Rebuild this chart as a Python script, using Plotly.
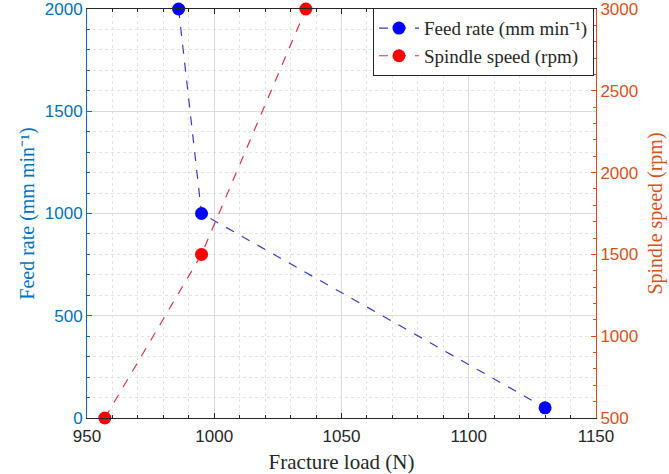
import plotly.graph_objects as go

load_feed = [986, 995, 1130]
feed_rate = [2000, 1000, 50]
load_spindle = [957, 995, 1036]
spindle_speed = [500, 1500, 3000]

x_ticks = [950, 1000, 1050, 1100, 1150]
y1_ticks = [0, 500, 1000, 1500, 2000]
y2_ticks = [500, 1000, 1500, 2000, 2500, 3000]

BLUE_AX = "#0072BD"
ORANGE_AX = "#D95319"
DARK = "#262626"
serif = "Liberation Serif"
sans = "Liberation Sans"

fig = go.Figure()
fig.add_trace(go.Scatter(
    x=load_feed, y=feed_rate, mode="lines+markers",
    name="Feed rate (mm min⁻¹)",
    line=dict(color="#3a3acc", dash="dash", width=1.2),
    marker=dict(color="#0000ff", size=13),
    cliponaxis=False, yaxis="y"))
fig.add_trace(go.Scatter(
    x=load_spindle, y=spindle_speed, mode="lines+markers",
    name="Spindle speed (rpm)",
    line=dict(color="#dd3344", dash="dash", width=1.2),
    marker=dict(color="#ff0000", size=13),
    cliponaxis=False, yaxis="y2"))

fig.update_layout(
    width=669, height=474,
    margin=dict(l=87, r=73, t=9, b=56, autoexpand=False),
    paper_bgcolor="white", plot_bgcolor="white",
    showlegend=True,
    legend=dict(x=0.996, y=1.002, xanchor="right", yanchor="top",
                bgcolor="white", bordercolor=DARK, borderwidth=1,
                font=dict(family=serif, size=19, color=DARK),
                tracegroupgap=0, itemwidth=40),
    xaxis=dict(
        range=[950, 1150], tickvals=x_ticks, ticks="inside", ticklen=5,
        tickcolor=DARK, showline=True, linecolor=DARK, linewidth=1,
        mirror="ticks", showgrid=True, gridcolor="#dcdcdc", gridwidth=1,
        tickfont=dict(family=sans, size=17, color=DARK),
        ticklabelstandoff=3, automargin=False, ticklabeloverflow="allow",
        zeroline=False,
        minor=dict(dtick=10, ticks="inside", ticklen=3, tickcolor=DARK,
                   showgrid=True, gridcolor="#e4e4e4", griddash="dot"),
        title=dict(text="Fracture load (N)", standoff=9,
                   font=dict(family=serif, size=21, color=DARK))),
    yaxis=dict(
        range=[0, 2000], tickvals=y1_ticks, ticks="inside", ticklen=5,
        tickcolor=BLUE_AX, showline=True, linecolor=BLUE_AX, linewidth=1,
        showgrid=True, gridcolor="#dcdcdc", gridwidth=1, zeroline=False,
        automargin=False, ticklabeloverflow="allow",
        tickfont=dict(family=sans, size=17, color=BLUE_AX),
        minor=dict(dtick=100, ticks="inside", ticklen=3, tickcolor=BLUE_AX,
                   showgrid=True, gridcolor="#e4e4e4", griddash="dot"),
        title=dict(text="Feed rate (mm min⁻¹)", standoff=4,
                   font=dict(family=serif, size=20, color=BLUE_AX))),
    yaxis2=dict(
        range=[500, 3000], tickvals=y2_ticks, ticks="inside", ticklen=5,
        tickcolor=ORANGE_AX, showline=True, linecolor=ORANGE_AX, linewidth=1,
        overlaying="y", side="right", showgrid=False, zeroline=False,
        automargin=False, ticklabeloverflow="allow",
        tickfont=dict(family=sans, size=17, color=ORANGE_AX),
        minor=dict(dtick=100, ticks="inside", ticklen=3, tickcolor=ORANGE_AX),
        title=dict(text="Spindle speed (rpm)", standoff=10,
                   font=dict(family=serif, size=20, color=ORANGE_AX))),
)

fig.write_html("out.html")
